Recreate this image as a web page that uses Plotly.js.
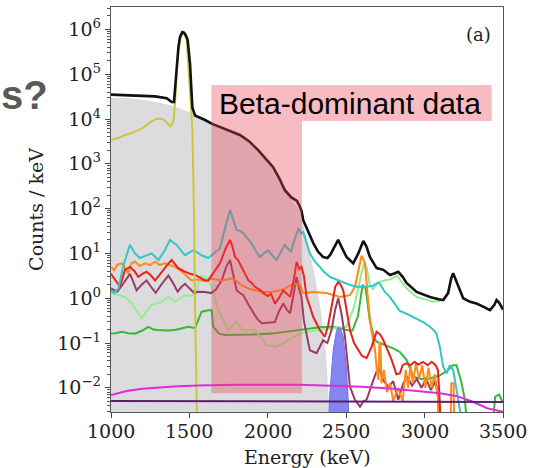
<!DOCTYPE html>
<html>
<head>
<meta charset="utf-8">
<script src="https://cdn.plot.ly/plotly-3.0.1.min.js"></script>
<style>
  html, body { margin: 0; padding: 0; background: #ffffff; }
  #chart { width: 539px; height: 468px; }
</style>
</head>
<body>
<div id="chart"></div>
<script>
// ---- Spectrum components: energy (keV) and counts / keV ----
const totalE = [1000,1100,1200,1281,1355,1387,1402,1412,1419,1430,1440,1455,1465,1475,1489,1504,1512,1519,1536,1570,1600,1642,1700,1760,1822,1880,1940,2000,2033,2070,2109,2150,2186,2205,2215,2226,2260,2290,2320,2353,2380,2400,2425,2449,2470,2502,2545,2577,2609,2630,2651,2694,2737,2779,2810,2832,2860,2885,2949,3000,3034,3090,3119,3150,3170,3182,3195,3214,3246,3290,3331,3380,3417,3445,3459,3475,3491,3500];
const totalCounts = [3.5e4,3.4e4,3.3e4,3.2e4,2.9e4,2.4e4,2.4e4,6.3e4,1.7e5,4.0e5,6.8e5,8.7e5,8.5e5,7.6e5,5.8e5,1.7e5,5.0e4,1.8e4,1.2e4,1.07e4,9.5e3,7.9e3,6.6e3,5.5e3,4.4e3,3.2e3,2.0e3,1.15e3,850,500,257,178,148,110,89,55,28,17,11,8.3,7.9,9.5,14,20,14,8.3,6.0,10,19,14,8.3,4.7,4.3,3.3,3.6,3.9,3.0,2.2,1.38,1.17,1.07,0.95,0.91,1.3,2.8,3.6,2.8,1.8,1.0,0.83,0.76,0.63,0.54,0.71,0.91,0.8,0.65,0.56];

const betaE = [1000,1100,1200,1300,1400,1500,1560,1600,1642,1700,1760,1822,1880,1940,2000,2070,2109,2150,2200,2230,2260,2300,2340,2370,2395];
const betaCounts = [3.0e4,2.95e4,2.7e4,2.35e4,1.95e4,1.45e4,1.17e4,1.0e4,7.8e3,6.5e3,5.4e3,4.3e3,3.1e3,1.95e3,1.12e3,480,250,166,95,40,12.6,3.2,0.5,0.063,0.0025];

const intrinsicE = [1000,1050,1089,1130,1174,1210,1238,1270,1302,1330,1355,1376,1390,1400,1410,1419,1430,1440,1455,1465,1482,1497,1510,1519,1525,1530,1535,1540,1548];
const intrinsicCounts = [3.4e3,3.8e3,4.4e3,4.8e3,5.6e3,6.6e3,7.9e3,9.3e3,1.02e4,1.0e4,8.5e3,6.8e3,7.6e3,1.0e4,2.8e4,1.2e5,3.2e5,5.8e5,7.9e5,8.1e5,6.3e5,1.2e5,1.9e4,5.6e3,720,63,1.0,0.063,0.0025];

const tealE = [1000,1020,1047,1080,1121,1153,1185,1220,1259,1302,1340,1376,1419,1450,1472,1500,1525,1550,1578,1620,1642,1695,1730,1759,1780,1801,1820,1844,1870,1897,1925,1950,1975,2003,2030,2056,2085,2109,2130,2148,2170,2195,2212,2226,2268,2300,2332,2360,2396,2440,2481,2520,2566,2630,2670,2700,2715,2745,2778,2810,2842,2885,2949,3000,3034,3060,3076,3097,3118,3140,3161,3182,3204,3225,3235];
const tealCounts = [1.5,1.3,1.65,5.6,15.5,10,7.9,8.9,10,7.1,11.2,20,15.5,11.2,9.1,10.5,11.7,10.5,9.1,7.9,9.1,12.9,40,93,56,33,32,28,22,16.6,11.2,8.3,10,11.7,8.9,7.1,11.2,15.5,12.6,11,20,36,28,30,10,6.6,5.0,3.8,3.0,2.6,2.3,2.0,1.8,1.8,1.9,2.2,2.1,1.4,1.07,0.76,0.52,0.45,0.35,0.28,0.23,0.19,0.16,0.083,0.03,0.021,0.032,0.025,0.0089,0.0032,0.001];

const orangeE = [1000,1020,1040,1068,1090,1110,1130,1153,1185,1217,1250,1281,1310,1344,1375,1408,1440,1472,1514,1550,1578,1620,1642,1706,1770,1800,1833,1875,1918,1970,2025,2070,2109,2140,2173,2205,2226,2290,2375,2460,2524,2556,2577,2598,2620,2641,2660,2684,2695,2705,2712,2718,2725,2740,2760,2780,2800,2830,2860,2880,2895,2910,2925,2945,2965,2985,3005,3025,3045,3065,3085,3100,3165,3170,3185,3190];
const orangeCounts = [5.0,4.2,5.6,6.0,4.8,3.5,6.0,6.5,5.2,6.0,5.5,6.5,5.5,6.0,5.5,5.0,4.2,3.3,2.5,2.6,2.5,2.5,2.75,2.5,2.75,2.4,1.95,1.66,1.5,1.4,1.38,1.48,1.66,1.9,2.1,2.0,1.3,1.38,1.3,1.07,1.17,1.8,4.3,8.9,6.0,0.76,0.2,0.069,0.025,0.015,0.1,0.1,0.0126,0.025,0.008,0.0126,0.005,0.01,0.005,0.025,0.01,0.032,0.0126,0.035,0.016,0.032,0.01,0.028,0.01,0.02,0.0063,0.001,0.001,0.0126,0.0126,0.001];

const redE = [1000,1030,1057,1089,1121,1150,1174,1200,1227,1255,1281,1310,1334,1360,1387,1410,1429,1472,1505,1536,1570,1599,1620,1660,1695,1730,1759,1775,1791,1810,1833,1855,1876,1897,1918,1945,1971,2000,2020,2046,2070,2099,2120,2142,2165,2184,2200,2215,2230,2247,2270,2290,2332,2364,2385,2407,2430,2449,2465,2481,2500,2524,2550,2577,2600,2630,2660,2694,2715,2737,2760,2790,2820,2842,2860,2885,2910,2935,2960,2990,3020,3045,3070,3085,3095,3105];
const redCounts = [3.5,2.5,1.8,4.3,5.0,4.0,3.0,3.5,3.9,3.2,2.5,3.3,4.3,5.6,7.1,5.6,4.7,3.9,3.5,3.3,2.8,2.5,2.5,4.0,6.0,12.6,20,14,8.3,7.1,5.0,3.5,2.5,2.2,1.8,1.58,1.3,1.12,1.26,0.76,1.0,1.5,1.26,1.07,2.5,6.5,4.5,5.0,3.2,1.07,0.63,0.38,0.195,0.138,0.25,0.65,1.8,2.3,2.0,1.5,0.63,0.195,0.1,0.069,0.052,0.046,0.079,0.178,0.158,0.115,0.071,0.042,0.02,0.021,0.032,0.035,0.032,0.038,0.033,0.038,0.032,0.038,0.032,0.025,0.0063,0.001];

const maroonE = [1000,1040,1078,1121,1145,1163,1195,1227,1255,1285,1320,1366,1395,1425,1450,1472,1500,1530,1560,1599,1640,1670,1706,1735,1759,1780,1801,1820,1844,1870,1897,1930,1961,2000,2046,2070,2099,2120,2142,2165,2184,2200,2215,2230,2250,2268,2311,2353,2380,2407,2430,2449,2470,2492,2510,2524,2556,2588,2610,2630,2673,2705,2737,2768,2800,2832,2864,2890,2920,2950,2980,3010,3040,3070,3085,3095];
const maroonCounts = [1.65,1.4,2.1,3.5,2.2,1.5,2.0,2.5,1.8,1.32,2.0,3.2,2.2,1.4,1.8,2.1,1.66,1.32,1.4,1.38,1.3,1.58,2.5,5.0,7.1,3.2,1.5,1.32,1.17,0.79,0.54,0.355,0.275,0.28,0.295,0.5,0.76,0.56,0.457,1.26,3.0,1.58,1.07,0.316,0.138,0.069,0.059,0.115,0.1,0.2,0.56,1.0,0.45,0.138,0.032,0.0105,0.0054,0.0038,0.005,0.0054,0.0148,0.0295,0.0148,0.0105,0.014,0.0054,0.0126,0.0178,0.0112,0.0158,0.01,0.0158,0.0089,0.014,0.0063,0.001];

const greenE = [1000,1030,1068,1110,1153,1200,1238,1270,1302,1350,1408,1460,1493,1536,1560,1578,1620,1642,1652,1690,1727,1812,1900,2025,2120,2205,2332,2417,2502,2540,2575,2605,2625,2650,2680,2694,2750,2800,2842,2885,2927,2980,3034,3070,3098,3150,3180,3204,3236,3257,3275,3430,3450,3475,3495];
const greenCounts = [0.162,0.166,0.178,0.166,0.162,0.19,0.23,0.2,0.195,0.19,0.195,0.22,0.23,0.214,0.355,0.5,0.54,0.54,0.23,0.162,0.151,0.151,0.155,0.162,0.178,0.195,0.224,0.23,0.195,0.19,0.4,2.0,1.6,0.32,0.126,0.107,0.089,0.076,0.063,0.042,0.0178,0.0158,0.0162,0.0174,0.019,0.025,0.032,0.032,0.0126,0.0054,0.001,0.001,0.0063,0.0071,0.005];

const paleE = [1000,1040,1089,1130,1174,1195,1225,1259,1290,1323,1366,1408,1440,1472,1510,1540,1570,1610,1642,1684,1748,1780,1801,1833,1918,1993,2056,2131,2205,2300,2400,2500,2550,2580,2612,2630,2650,2670,2700,2740,2780,2823,2860,2885,2949,3000,3055,3100];
const paleCounts = [1.3,1.2,1.07,0.8,0.46,0.355,0.5,0.71,0.76,0.83,1.07,0.83,1.0,1.17,1.12,1.26,3.2,2.8,1.8,0.54,0.195,0.25,0.32,0.195,0.195,0.089,0.083,0.117,0.162,0.19,0.21,0.23,0.63,2.0,6.0,5.0,2.0,1.6,2.2,2.5,2.6,3.2,2.2,1.66,1.07,0.93,0.83,0.87];

const peakE = [2385,2396,2417,2439,2452,2465,2481,2502,2512,2520];
const peakCounts = [0.001,0.0076,0.069,0.195,0.23,0.2,0.138,0.025,0.006,0.001];

const magentaE = [1000,1100,1200,1300,1400,1550,1800,2200,2400,2600,2800,3000,3100,3200,3300,3400,3500];
const magentaCounts = [0.0069,0.0085,0.0095,0.0102,0.0107,0.0112,0.0117,0.0117,0.0112,0.0105,0.0095,0.0083,0.0076,0.0066,0.005,0.0035,0.0029];

const purpleE = [1000,2000,3000,3500];
const purpleCounts = [0.0051,0.005,0.0049,0.0048];

// tick labels
const xTicks = [1000,1500,2000,2500,3000,3500];
const yTickExps = [-2,-1,0,1,2,3,4,5,6];

const serif = 'DejaVu Serif';
const ink = '#222222';

function line(x, y, color, width) {
  return { x: x, y: y, type: 'scatter', mode: 'lines',
           line: { color: color, width: width || 2 }, hoverinfo: 'skip' };
}

const traces = [
  { x: betaE, y: betaCounts, type: 'scatter', mode: 'lines', fill: 'tozeroy',
    fillcolor: '#dcdcde', line: { width: 0, color: '#dcdcde' }, hoverinfo: 'skip' },
  line(greenE, greenCounts, '#36b936'),
  line(paleE, paleCounts, '#90ee90'),
  { x: peakE, y: peakCounts, type: 'scatter', mode: 'lines', fill: 'tozeroy',
    fillcolor: 'rgba(112,112,240,0.85)', line: { width: 1, color: '#7272ee' }, hoverinfo: 'skip' },
  line(maroonE, maroonCounts, '#983c66'),
  line(orangeE, orangeCounts, '#ff8a1c'),
  line(redE, redCounts, '#e8221c'),
  line(tealE, tealCounts, '#36c6c6'),
  line(intrinsicE, intrinsicCounts, '#c9c83a'),
  line(magentaE, magentaCounts, '#dd2ddd'),
  line(purpleE, purpleCounts, '#5a1e78'),
  line(totalE, totalCounts, '#111111', 2.6)
];

const minorVals = [];
for (let d = -3; d <= 6; d++) {
  for (let m = 2; m <= 9; m++) minorVals.push(m * Math.pow(10, d));
}

// shaded window and caption box (shape coordinates are in data units)
const windowLo = 1640, windowHi = 2218;
const boxRight = 3428;
const windowBottom = 0.0076, windowTop = 8970, boxTop = 57200;

// energy tick labels, centred under their ticks
const xLabelNotes = xTicks.map(v => ({
  text: String(v), xref: 'x', yref: 'paper', x: v, y: -0.0148,
  xanchor: 'center', yanchor: 'top', showarrow: false,
  font: { family: serif, size: 19, color: ink }
}));

const layout = {
  width: 539, height: 468,
  margin: { l: 111, r: 36, t: 7, b: 56 },
  paper_bgcolor: '#ffffff', plot_bgcolor: '#ffffff',
  showlegend: false,
  font: { family: serif, size: 19, color: ink },
  xaxis: {
    range: [1000, 3500], tickmode: 'array', tickvals: xTicks,
    showticklabels: false,
    ticks: 'outside', ticklen: 5, tickcolor: '#444',
    showline: true, mirror: true, linecolor: '#555', linewidth: 1.2,
    showgrid: false, zeroline: false
  },
  yaxis: {
    type: 'log', range: [-2.54, 6.5],
    tickmode: 'array',
    tickvals: yTickExps.map(e => Math.pow(10, e)),
    ticktext: yTickExps.map(e => '10<sup>' + (e < 0 ? '\u2212' + (-e) : e) + '</sup>'),
    ticks: 'outside', ticklen: 5, tickcolor: '#444',
    minor: { tickmode: 'array', tickvals: minorVals, ticks: 'outside', ticklen: 3, tickcolor: '#555', showgrid: false },
    showline: true, mirror: true, linecolor: '#555', linewidth: 1.2,
    showgrid: false, zeroline: false,
    tickfont: { family: serif, size: 19, color: ink },
    title: { text: 'Counts / keV', font: { family: serif, size: 19, color: ink }, standoff: 8 }
  },
  shapes: [
    { type: 'rect', xref: 'x', yref: 'y', x0: windowLo, x1: windowHi, y0: windowBottom, y1: windowTop,
      fillcolor: 'rgba(235,61,81,0.35)', line: { width: 0 }, layer: 'above' },
    { type: 'rect', xref: 'x', yref: 'y', x0: windowLo, x1: boxRight, y0: windowTop, y1: boxTop,
      fillcolor: '#f8bbc2', line: { width: 0 }, layer: 'above' }
  ],
  annotations: xLabelNotes.concat([
    { text: 'Energy (keV)', xref: 'paper', yref: 'paper', x: 0.5, y: -0.111,
      xanchor: 'center', yanchor: 'middle', showarrow: false,
      font: { family: serif, size: 19, color: ink } },
    { text: 'Beta-dominant data', xref: 'x', yref: 'y', x: 2526, y: 4.345,
      xanchor: 'center', yanchor: 'middle', showarrow: false,
      font: { family: 'Liberation Sans', size: 30, color: '#000000' } },
    { text: '(a)', xref: 'paper', yref: 'paper', x: 0.974, y: 0.931,
      xanchor: 'right', yanchor: 'middle', showarrow: false,
      font: { family: serif, size: 18, color: ink } },
    { text: 's?', xref: 'paper', yref: 'paper', x: -0.156, y: 0.783,
      xanchor: 'right', yanchor: 'middle', showarrow: false,
      font: { family: 'Liberation Sans', size: 40, color: '#595959', weight: 'bold' } }
  ])
};

Plotly.newPlot('chart', traces, layout, { staticPlot: true, displayModeBar: false });
</script>
</body>
</html>
